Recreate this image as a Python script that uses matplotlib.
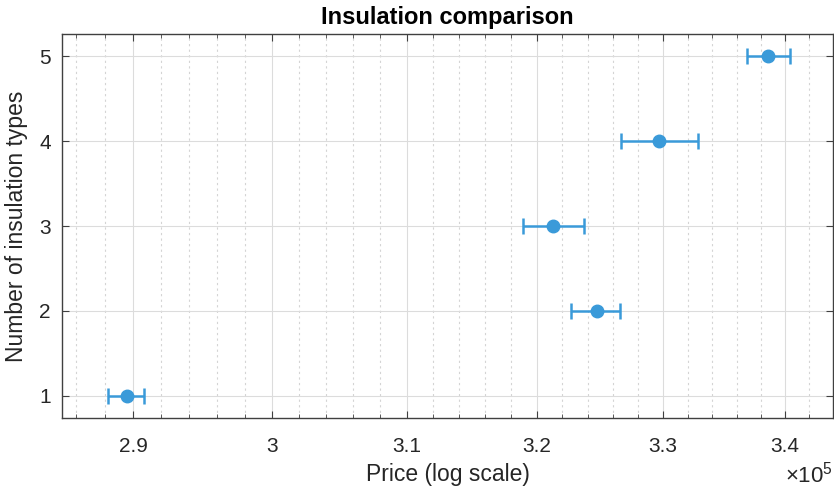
import matplotlib
matplotlib.use("Agg")
import matplotlib.pyplot as plt
from matplotlib.ticker import FixedLocator, NullFormatter

plt.rcParams['font.family'] = ['Liberation Sans', 'DejaVu Sans']
plt.rcParams['mathtext.fontset'] = 'custom'
plt.rcParams['mathtext.rm'] = 'Liberation Sans'

# insulation types and price estimates with lower/upper bounds
types = [1, 2, 3, 4, 5]
price = [2.8955e5, 3.2472e5, 3.2126e5, 3.2972e5, 3.3858e5]
price_lo = [2.8825e5, 3.2273e5, 3.1891e5, 3.2668e5, 3.3685e5]
price_hi = [2.9078e5, 3.2658e5, 3.2371e5, 3.3283e5, 3.4043e5]

major_ticks = [2.9e5, 3.0e5, 3.1e5, 3.2e5, 3.3e5, 3.4e5]
major_labels = ['2.9', '3', '3.1', '3.2', '3.3', '3.4']
minor_ticks = [v * 1e3 for v in range(286, 344, 2) if v % 10 != 0]

blue = '#3A9AD9'
txt = '#262626'

fig = plt.figure(figsize=(8.34, 4.95), dpi=100)
ax = fig.add_axes([62 / 834, 1 - 418 / 495, (833 - 62) / 834, (418 - 34) / 495])

xerr = [[p - lo for p, lo in zip(price, price_lo)],
        [hi - p for p, hi in zip(price, price_hi)]]
ax.errorbar(price, types, xerr=xerr, fmt='o', color=blue, ecolor=blue,
            markersize=9, elinewidth=1.8, capsize=5.5, capthick=1.8, zorder=3)

ax.set_xscale('log')
ax.set_xlim(2.85e5, 3.44e5)
ax.set_ylim(0.74, 5.26)
ax.xaxis.set_major_locator(FixedLocator(major_ticks))
ax.set_xticklabels(major_labels)
ax.xaxis.set_minor_locator(FixedLocator(minor_ticks))
ax.xaxis.set_minor_formatter(NullFormatter())
ax.set_yticks(types)

ax.grid(True, which='major', color='#dcdcdc', linewidth=0.8)
ax.grid(True, which='minor', axis='x', color='#d4d4d4', linestyle=(0, (2, 3)), linewidth=0.8)
ax.set_axisbelow(True)

ax.tick_params(which='both', direction='in', top=True, right=True,
               colors='#404040', labelcolor=txt, labelsize=15)
ax.tick_params(axis='x', pad=14)
ax.tick_params(axis='y', pad=8)
ax.tick_params(which='major', length=5)
ax.tick_params(which='minor', length=3)
for s in ax.spines.values():
    s.set_color('#404040')
    s.set_linewidth(1.0)

ax.set_title('Insulation comparison', fontsize=17, fontweight='bold', color='black', pad=7)
ax.set_xlabel('Price (log scale)', fontsize=16.5, color=txt, labelpad=5)
ax.set_ylabel('Number of insulation types', fontsize=16.5, color=txt, labelpad=8)
fig.text(0.999, 1 - 475 / 495, r'$\times10^5$', ha='right', va='center', fontsize=16, color=txt)

fig.savefig('out.png', dpi=100)
